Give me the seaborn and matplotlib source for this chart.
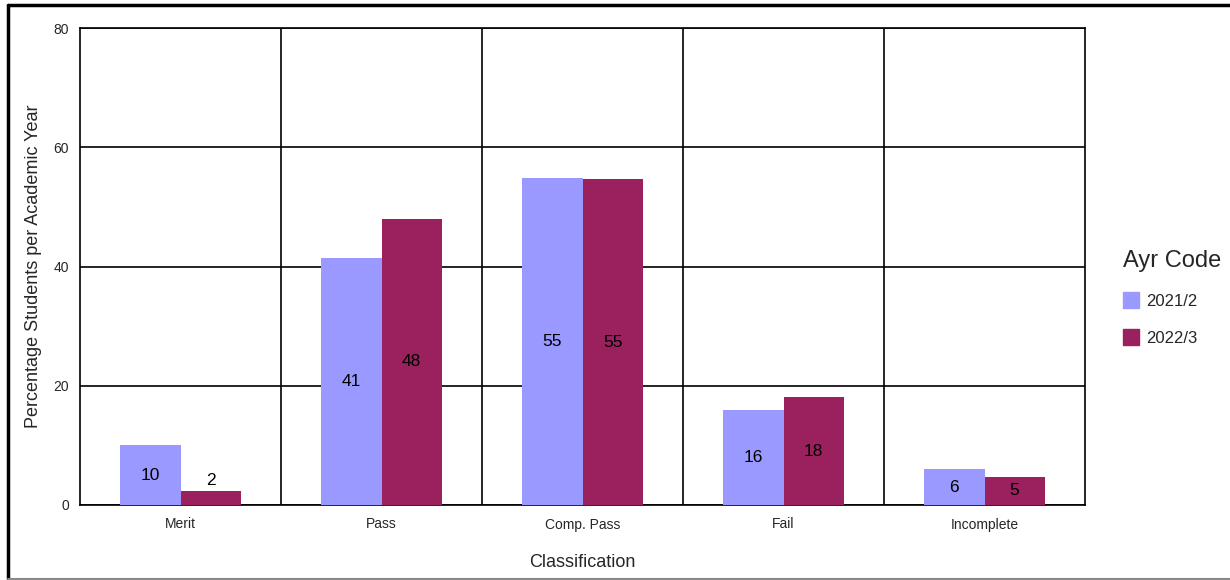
import pandas as pd
import seaborn as sns
import matplotlib.pyplot as plt
from matplotlib.lines import Line2D

classes = ['Merit', 'Pass', 'Comp. Pass', 'Fail', 'Incomplete']
years = ['2021/2', '2022/3']
pct_2021 = [10.0, 41.4, 54.9, 15.9, 6.0]
pct_2022 = [2.4, 48.0, 54.6, 18.1, 4.7]
colors = ['#9999FF', '#9A205E']


def main() -> None:
    df = pd.DataFrame({
        'Classification': classes * 2,
        'Ayr Code': [years[0]] * 5 + [years[1]] * 5,
        'Pct': pct_2021 + pct_2022,
    })

    sns.set_theme(style='white')
    plt.rcParams['font.family'] = ['Liberation Sans', 'DejaVu Sans']

    fig = plt.figure(figsize=(12.3, 5.8), dpi=100)
    ax = fig.add_axes([80 / 1230, 1 - 505 / 580, 1005 / 1230, 477 / 580])

    sns.barplot(data=df, x='Classification', y='Pct', hue='Ayr Code',
                palette=colors, width=0.6, saturation=1, ax=ax,
                errorbar=None, zorder=3, linewidth=0)

    # data labels: centred in the bar, above it if bar is too short
    for cont in ax.containers:
        for bar in cont:
            h = bar.get_height()
            xc = bar.get_x() + bar.get_width() / 2
            if h > 4:
                ax.text(xc, h / 2, f'{round(h + 1e-9):.0f}', ha='center', va='center',
                        fontsize=12.5, color='black', zorder=4)
            else:
                ax.text(xc, h + 0.4, f'{round(h):.0f}', ha='center', va='bottom',
                        fontsize=12.5, color='black', zorder=4)

    ax.set_ylim(0, 80)
    ax.set_xlim(-0.5, 4.5)
    ax.set_yticks([0, 20, 40, 60, 80])
    ax.set_xticks(range(5))
    ax.set_xticks([0.5, 1.5, 2.5, 3.5], minor=True)
    ax.grid(True, which='major', axis='y', color='black', linewidth=1.2, zorder=0)
    ax.grid(True, which='minor', axis='x', color='black', linewidth=1.2, zorder=0)
    ax.grid(False, which='major', axis='x')
    ax.tick_params(axis='both', which='both', length=0, labelsize=10)
    ax.tick_params(axis='x', pad=9)
    ax.tick_params(axis='y', pad=8)
    for s in ax.spines.values():
        s.set_color('black')
        s.set_linewidth(1.2)

    ax.set_xlabel('Classification', fontsize=13, labelpad=16)
    ax.set_ylabel('Percentage Students per Academic Year', fontsize=13, labelpad=8)

    ax.get_legend().remove()
    handles = [Line2D([0], [0], marker='s', linestyle='', markersize=11,
                      markerfacecolor=c, markeredgecolor=c) for c in colors]
    fig.legend(handles, years, title='Ayr Code', loc='center left',
               bbox_to_anchor=(1108 / 1230, 1 - 298 / 580), frameon=False,
               fontsize=12, title_fontsize=17, handletextpad=0.4,
               labelspacing=1.3, alignment='left', handlelength=1.0)

    # outer frame
    fig.add_artist(Line2D([8 / 1230, 8 / 1230], [1 - 579 / 580, 1 - 5 / 580],
                          transform=fig.transFigure, color='black', linewidth=2.5))
    fig.add_artist(Line2D([8 / 1230, 1], [1 - 5 / 580, 1 - 5 / 580],
                          transform=fig.transFigure, color='black', linewidth=2.5))
    fig.add_artist(Line2D([8 / 1230, 1], [1 - 579 / 580, 1 - 579 / 580],
                          transform=fig.transFigure, color='#888888', linewidth=1.5))

    fig.savefig('out.png', dpi=100)


if __name__ == '__main__':
    main()
